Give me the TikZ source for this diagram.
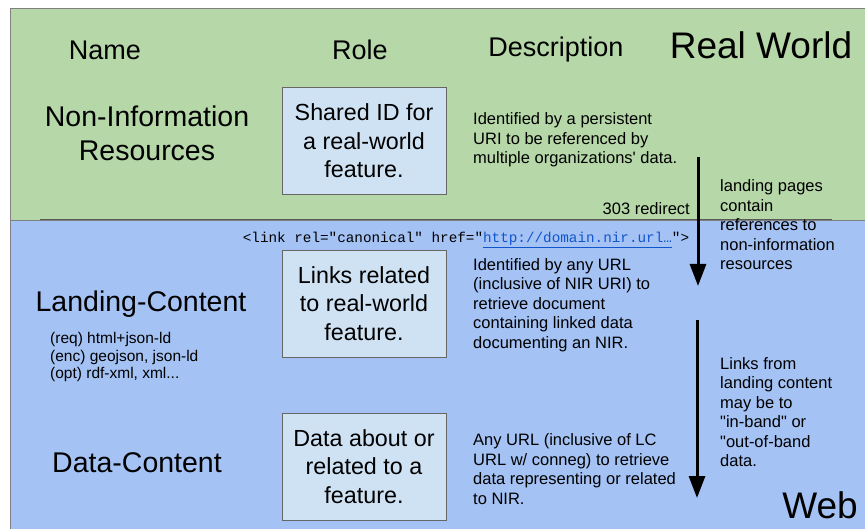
\documentclass[tikz,border=0pt]{standalone}
\usepackage{fontspec}
\setmainfont{Liberation Sans}
\setmonofont{Liberation Mono}
\usetikzlibrary{arrows.meta}
\definecolor{realgreen}{HTML}{B6D7A8}
\definecolor{webblue}{HTML}{A4C2F4}
\definecolor{rolebox}{HTML}{CFE2F3}
\definecolor{linkblue}{HTML}{1155CC}
\newcommand{\fs}[2]{\fontsize{#1pt}{#2pt}\selectfont}
\begin{document}
\begin{tikzpicture}[x=1pt,y=-1pt,>={Triangle[width=16pt,length=22pt]},
		head/.style={inner sep=0pt,font=\fs{27}{32}},
		kind/.style={inner sep=0pt,align=center,font=\fs{28.5}{34}},
		role/.style={draw=black!60,fill=rolebox,minimum width=164pt,minimum height=107pt,inner sep=0pt,align=center,font=\fs{23.3}{28.5}},
		desc/.style={anchor=west,inner sep=0pt,align=left,font=\fs{16.5}{19.5}},
		world/.style={inner sep=0pt,font=\fs{37}{40}}]
		\useasboundingbox (0,0) rectangle (865,529);
		\begin{scope}
			\clip (0,0) rectangle (865,529);
			\draw[black!50,fill=realgreen] (10,8) rectangle (870,220);
			\draw[black!50,fill=webblue] (10,220) rectangle (870,535);
		\end{scope}
		\draw[black!65,line width=1pt] (40,220) -- (832,220);
		% column heads
		\node[head] (name) at (105,50) {Name};
		\node[head] (role) at (360,50) {Role};
		\node[head] (descr) at (556,50) {Description};
		\node[world] (real) at (761,45) {Real World};
		\node[world] (web) at (820,505) {Web};
		% rows
		\node[kind] (nir) at (147,133) {Non-Information\\Resources};
		\node[role] (nirrole) at (364,141) {Shared ID for\\a real-world\\feature.};
		\node[desc] (nirdesc) at (473,140) {Identified by a persistent\\URI to be referenced by\\multiple organizations\textquotesingle{} data.};
		\node[kind] (lc) at (141,304) {Landing-Content};
		\node[desc,font=\fs{15.5}{17.5}] (lcfmt) at (50,357) {(req) html+json-ld\\(enc) geojson, json-ld\\(opt) rdf-xml, xml...};
		\node[role] (lcrole) at (364,303.5) {Links related\\to real-world\\feature.};
		\node[desc] (lcdesc) at (473,305) {Identified by any URL\\(inclusive of NIR URI) to\\retrieve document\\containing linked data\\documenting an NIR.};
		\node[kind] (dc) at (137,463) {Data-Content};
		\node[role] (dcrole) at (364,466.5) {Data about or\\related to a\\feature.};
		\node[desc] (dcdesc) at (473,469) {Any URL (inclusive of LC\\URL w/ conneg) to retrieve\\data representing or related\\to NIR.};
		% redirect and links
		\node[anchor=east,inner sep=0pt,font=\fs{16.5}{19.5}] (redirect) at (690,209) {303 redirect};
		\node[inner sep=0pt,font=\ttfamily\fs{14.3}{17}] (canon) at (466,240) {<link rel="canonical" href="\textcolor{linkblue}{\underline{http://domain.nir.url…}}">};
		\node[desc] (lpnote) at (720,225) {landing pages\\contain\\references to\\non-information\\resources};
		\node[desc] (lcnote) at (720,412) {Links from\\landing content\\may be to\\\textquotedbl in-band\textquotedbl{} or\\\textquotedbl out-of-band\\data.};
		\coordinate (a1) at (698,157);
		\coordinate (b1) at (698,286);
		\coordinate (a2) at (697,320);
		\coordinate (b2) at (697,498);
		\draw[->,line width=3pt] (a1) -- (b1);
		\draw[->,line width=3pt] (a2) -- (b2);
\end{tikzpicture}
\end{document}
